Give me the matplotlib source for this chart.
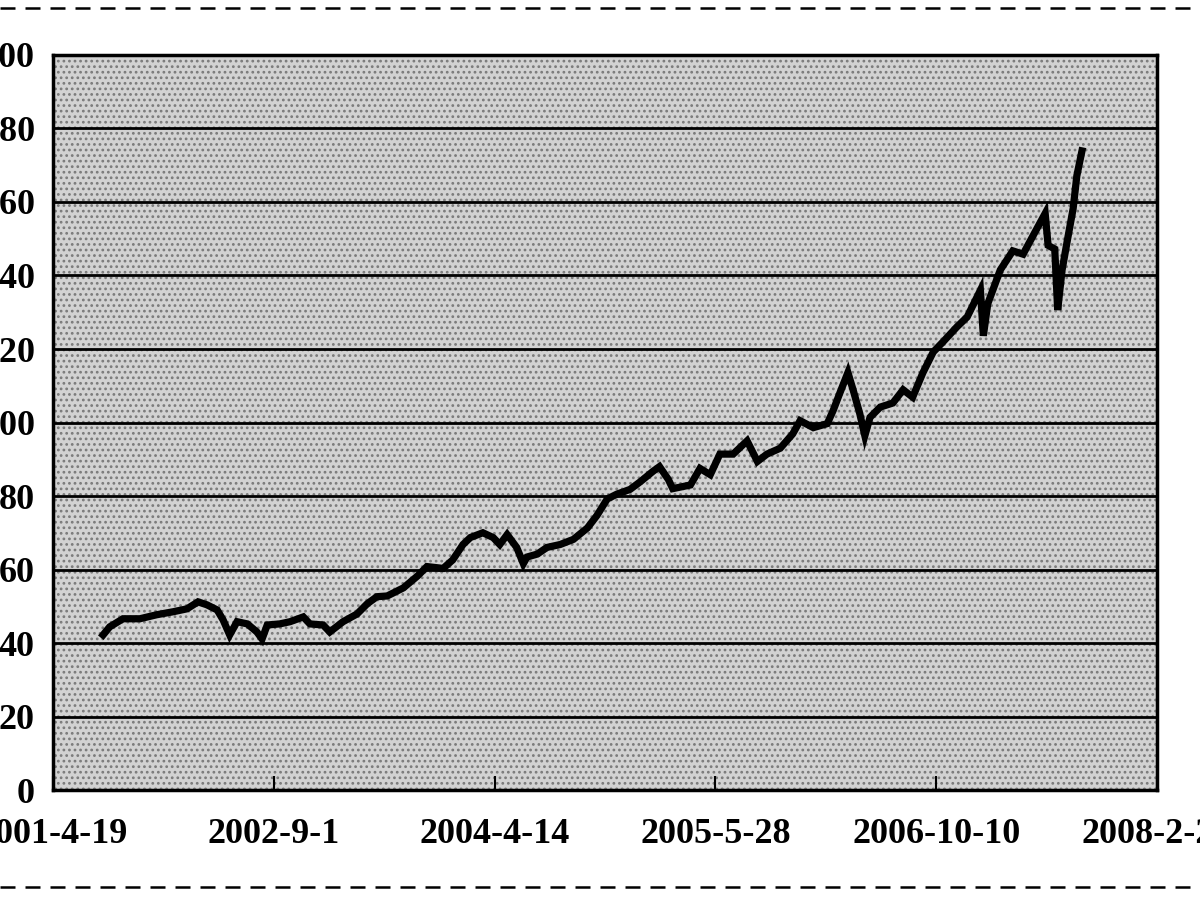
"""Recreate the scanned price-index chart (2001-2008)."""

import matplotlib

matplotlib.use("Agg")

import matplotlib.pyplot as plt
from matplotlib.lines import Line2D
from matplotlib.patches import Rectangle

# Category positions (trading-day index) and values
day_index = [
    68, 77, 95, 118, 141, 163, 182, 197, 209, 223, 231, 240, 250, 264, 277, 284,
    291, 308, 322, 340, 349, 367, 376, 394, 413, 427, 440, 454, 476, 495, 508,
    530, 543, 557, 567, 584, 598, 607, 617, 630, 639, 644, 658, 671, 689, 707,
    726, 739, 753, 766, 784, 798, 815, 824, 836, 842, 866, 879, 893, 906, 924,
    943, 957, 970, 988, 1005, 1015, 1033, 1052, 1060, 1069, 1080, 1087, 1096,
    1103, 1110, 1124, 1141, 1155, 1168, 1182, 1196, 1209, 1228, 1242, 1260,
    1264, 1270, 1287, 1304, 1318, 1332, 1348, 1352, 1361, 1365, 1371, 1378,
    1386, 1391, 1398,
]
index_value = [
    42.2, 44.4, 46.6, 46.6, 47.7, 48.5, 49.3, 51.2, 50.4, 49.0, 46.3, 42.2,
    45.8, 45.2, 43.0, 41.1, 44.9, 45.2, 45.8, 47.1, 45.2, 44.9, 43.0, 45.8,
    47.9, 50.7, 52.6, 52.8, 55.0, 58.2, 60.8, 60.3, 62.6, 66.8, 68.7, 70.0,
    68.7, 66.8, 69.5, 66.0, 61.6, 63.4, 64.2, 66.0, 66.8, 68.2, 71.3, 74.7,
    79.2, 80.5, 81.8, 83.9, 86.7, 88.0, 84.5, 82.0, 83.0, 87.5, 85.8, 91.4,
    91.4, 95.0, 89.4, 91.4, 93.0, 96.9, 100.5, 98.6, 99.7, 103.3, 108.0,
    113.6, 108.9, 102.5, 96.4, 101.4, 104.2, 105.3, 108.9, 106.9, 113.6,
    119.2, 121.9, 126.0, 128.7, 136.0, 123.6, 132.3, 141.5, 146.7, 145.8,
    151.0, 156.9, 148.2, 147.2, 130.6, 141.5, 149.4, 158.2, 167.1, 173.9,
]

tick_days = [0, 300, 600, 900, 1200, 1500]
tick_labels = ["2001-4-19", "2002-9-1", "2004-4-14", "2005-5-28", "2006-10-10", "2008-2-22"]
y_ticks = [0, 20, 40, 60, 80, 100, 120, 140, 160, 180, 200]


def create_plot() -> plt.Figure:
    """Draw the line chart on a stippled grey background."""
    plt.rcParams["font.family"] = ["Liberation Serif", "DejaVu Serif"]
    plt.rcParams["hatch.linewidth"] = 1.2

    fig = plt.figure(figsize=(12, 9), dpi=100, facecolor="white")
    ax = fig.add_axes([0.0442, 0.1222, 0.92, 0.8167])

    # Stippled background like the scan
    ax.set_facecolor("#d2d2d2")
    ax.add_patch(
        Rectangle((0, 0), 1, 1, transform=ax.transAxes, facecolor="none",
                  edgecolor="#7a7a7a", hatch="...", linewidth=0, zorder=0)
    )

    for y in y_ticks:
        ax.axhline(y, color="black", linewidth=2.0, zorder=1)

    ax.plot(day_index, index_value, color="black", linewidth=5.2,
            solid_joinstyle="miter", zorder=3)

    ax.set_xlim(tick_days[0], tick_days[-1])
    ax.set_ylim(0, 200)
    ax.set_xticks(tick_days)
    ax.set_xticklabels(tick_labels, fontsize=26, fontweight="bold")
    ax.set_yticks(y_ticks)
    ax.set_yticklabels([str(v) for v in y_ticks], fontsize=26, fontweight="bold")
    ax.tick_params(axis="x", direction="in", length=10, width=1.5, pad=20)
    ax.tick_params(axis="y", length=0, pad=13)
    for spine in ax.spines.values():
        spine.set_linewidth(2.5)

    # Dashed cut lines above and below the chart
    for y in (0.991, 0.015):
        fig.add_artist(Line2D([0, 1], [y, y], transform=fig.transFigure,
                              color="black", linewidth=1.8,
                              linestyle=(0, (6, 4))))
    return fig


if __name__ == "__main__":
    fig = create_plot()
    fig.savefig("out.png", dpi=100)
    plt.close(fig)
